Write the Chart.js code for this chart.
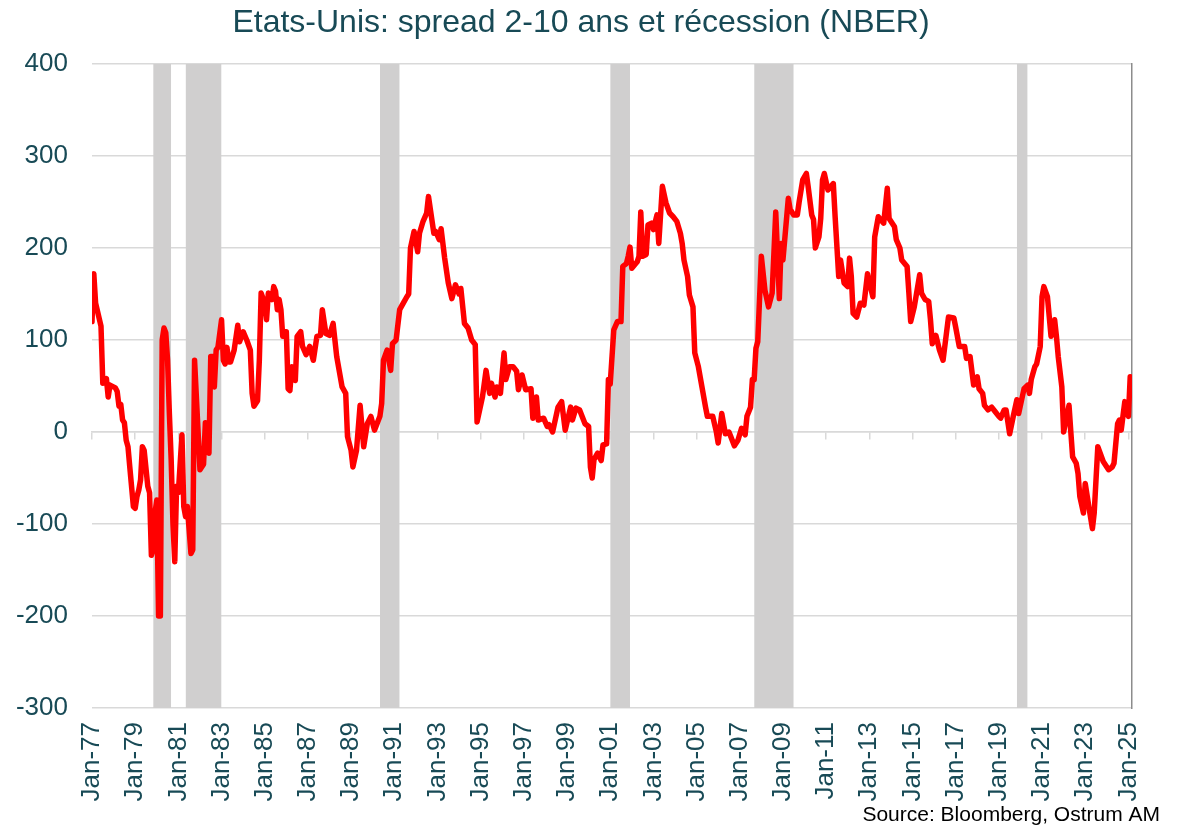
<!DOCTYPE html>
<html>
<head>
<meta charset="utf-8">
<script src="https://cdn.jsdelivr.net/npm/chart.js@4/dist/chart.umd.min.js"></script>
<style>
html,body{margin:0;padding:0;background:#ffffff;}
#wrap{width:1183px;height:827px;position:relative;}
</style>
</head>
<body>
<div id="wrap"><canvas id="c" width="1183" height="827"></canvas></div>
<script>
const chartTitle = "Etats-Unis: spread 2-10 ans et récession (NBER)";
const sourceText = "Source: Bloomberg, Ostrum AM";

const dates = [
"1977-01","1977-02","1977-03","1977-06","1977-07","1977-09","1977-10","1977-11",
"1978-02","1978-03","1978-04","1978-05","1978-06","1978-07","1978-08","1978-09","1978-10","1978-12",
"1979-01","1979-02","1979-03","1979-04","1979-05","1979-06","1979-08","1979-09","1979-10","1979-11","1979-12",
"1980-01","1980-02","1980-03","1980-04","1980-05","1980-06","1980-07","1980-08","1980-09","1980-10","1980-11","1980-12",
"1981-01","1981-03","1981-04","1981-05","1981-06","1981-08","1981-09","1981-10",
"1982-01","1982-03","1982-04","1982-05","1982-06","1982-07","1982-08","1982-09","1982-10","1982-11",
"1983-01","1983-02","1983-03","1983-04","1983-05","1983-06","1983-08","1983-10","1983-11",
"1984-01","1984-03","1984-05","1984-06","1984-07","1984-09","1984-10","1984-11",
"1985-01","1985-02","1985-03","1985-05","1985-06","1985-07","1985-08","1985-09","1985-10","1985-11","1985-12",
"1986-01","1986-02","1986-03","1986-04","1986-06","1986-07","1986-09","1986-10","1986-12",
"1987-02","1987-04","1987-06","1987-08","1987-09","1987-11",
"1988-01","1988-03","1988-05","1988-08","1988-10","1988-11",
"1989-01","1989-02","1989-04","1989-06","1989-08","1989-10","1989-12",
"1990-02","1990-05","1990-06","1990-07","1990-09","1990-11","1990-12",
"1991-02","1991-04","1991-06","1991-08","1991-09","1991-10","1991-12",
"1992-02","1992-03","1992-05","1992-07","1992-08","1992-11","1992-12",
"1993-02","1993-03","1993-05","1993-07","1993-09","1993-11",
"1994-01","1994-02","1994-04","1994-06","1994-08","1994-10","1994-11",
"1995-02","1995-04","1995-06","1995-07","1995-09","1995-10","1995-12",
"1996-02","1996-03","1996-05","1996-07","1996-09","1996-10","1996-12",
"1997-02","1997-05","1997-06","1997-08","1997-09","1997-12",
"1998-02","1998-03","1998-05","1998-08","1998-10","1998-12",
"1999-03","1999-04","1999-06","1999-08","1999-11",
"2000-01","2000-02","2000-03","2000-04","2000-06","2000-08","2000-09","2000-11","2000-12",
"2001-01","2001-03","2001-05","2001-07","2001-08","2001-10","2001-11","2001-12",
"2002-01","2002-04","2002-05","2002-06","2002-07","2002-09","2002-10","2002-12",
"2003-01","2003-03","2003-04","2003-06","2003-08","2003-10","2003-12",
"2004-02","2004-04","2004-05","2004-06","2004-08","2004-09","2004-11","2004-12",
"2005-02","2005-04","2005-06","2005-07","2005-10","2005-12",
"2006-01","2006-03","2006-05","2006-07","2006-08","2006-10","2006-12",
"2007-02","2007-04","2007-05","2007-07","2007-08","2007-09","2007-10","2007-11",
"2008-01","2008-03","2008-05","2008-07","2008-09","2008-11","2008-12",
"2009-01","2009-04","2009-05","2009-07","2009-09","2009-10","2009-12",
"2010-02","2010-03","2010-05","2010-06","2010-07","2010-09","2010-10","2010-11","2010-12",
"2011-02","2011-05","2011-06","2011-08","2011-09","2011-11",
"2012-01","2012-02","2012-03","2012-04","2012-06","2012-08","2012-10","2012-12",
"2013-01","2013-03","2013-04","2013-06","2013-09","2013-11","2013-12",
"2014-03","2014-04","2014-06","2014-07","2014-10","2014-11","2014-12",
"2015-02","2015-05","2015-06","2015-08","2015-10","2015-11","2015-12",
"2016-02","2016-04","2016-06","2016-09","2016-12",
"2017-01","2017-03","2017-06","2017-07","2017-09","2017-11",
"2018-01","2018-02","2018-04","2018-05","2018-07","2018-09","2018-11",
"2019-01","2019-02","2019-04","2019-05","2019-07","2019-09","2019-11","2019-12",
"2020-02","2020-03","2020-05","2020-06","2020-07","2020-09","2020-10","2020-12",
"2021-01","2021-02","2021-04","2021-06","2021-08","2021-09","2021-10","2021-12",
"2022-01","2022-04","2022-05","2022-06","2022-08","2022-09","2022-10","2022-12",
"2023-01","2023-03","2023-05","2023-06","2023-08","2023-11",
"2024-02","2024-04","2024-05","2024-07","2024-08","2024-09","2024-11",
"2025-01","2025-02"
];

const spread = [
120,172,140,115,53,58,38,51,
48,44,28,30,13,10,-9,-16,-38,-81,
-83,-70,-63,-52,-16,-20,-59,-66,-134,-128,-88,
-74,-200,-200,100,113,108,78,20,-30,-100,-141,-59,
-66,-3,-81,-92,-81,-132,-128,78,
-41,-35,10,7,-23,82,82,49,89,92,
122,78,74,92,76,76,89,116,98,
109,100,89,42,28,34,78,151,
140,122,151,144,158,153,133,144,133,104,109,
109,47,45,71,56,104,109,93,84,
93,78,104,105,133,107,
105,118,82,49,42,-5,
-20,-38,-20,29,-16,9,17,
2,17,31,78,89,67,96,
100,133,140,147,150,200,218,
196,216,229,238,256,216,218,
209,221,189,162,145,160,
150,156,118,113,100,95,11,
38,67,42,53,38,49,42,
86,57,71,71,66,46,62,
46,47,15,38,13,15,
6,8,0,27,33,2,
27,13,26,24,9,
6,-38,-50,-30,-23,-31,-14,-13,57,
52,111,120,120,180,183,191,201,
178,185,191,239,191,193,225,227,
220,236,205,267,249,238,234,
229,216,205,187,169,149,136,86,
71,49,27,17,17,0,
-12,20,-2,0,-5,-15,-9,
4,-3,17,27,57,57,91,98,
191,154,136,151,239,145,205,
187,254,242,236,236,250,274,
281,267,236,231,200,212,232,274,281,
263,270,234,169,187,162,
158,189,169,129,125,140,138,172,
163,147,212,234,227,265,232,
223,209,200,187,180,151,120,
136,171,151,144,142,122,96,
105,89,78,125,124,
114,93,93,80,82,51,
60,47,42,29,24,27,22,
17,15,24,24,-2,17,35,20,
38,47,51,42,57,71,74,93,
147,158,147,104,122,104,82,49,
0,29,0,-27,-34,-45,-70,-88,
-56,-81,-105,-88,-16,-32,
-41,-38,-34,9,13,2,33,
17,60
];

const recessionStart = ["1979-11","1981-05","1990-05","2001-01","2007-09","2019-11"];
const recessionEnd   = ["1980-09","1983-01","1991-04","2001-12","2009-07","2020-05"];

const xTickLabels = ["Jan-77","Jan-79","Jan-81","Jan-83","Jan-85","Jan-87","Jan-89","Jan-91","Jan-93","Jan-95","Jan-97","Jan-99","Jan-01","Jan-03","Jan-05","Jan-07","Jan-09","Jan-11","Jan-13","Jan-15","Jan-17","Jan-19","Jan-21","Jan-23","Jan-25"];
const yMin = -300, yMax = 400, yStep = 100;

const TEAL = '#184a56';
const GRID = '#d9d9d9';
const FONT = "'Liberation Sans', Arial, sans-serif";

function monthIndex(d){
  const p = d.split('-');
  return (parseInt(p[0],10) - 1977) * 12 + (parseInt(p[1],10) - 1);
}
const xMax = monthIndex(dates[dates.length-1]) + 1;
const tickStep = 24;

const lineData = dates.map((d,i) => ({x: monthIndex(d), y: spread[i]}));

const recessionSets = recessionStart.map((s,i) => ({
  type: 'line',
  label: 'rec' + i,
  data: [{x: monthIndex(s), y: yMax}, {x: monthIndex(recessionEnd[i]), y: yMax}],
  fill: 'start',
  backgroundColor: '#d0cfcf',
  borderWidth: 0,
  pointRadius: 0,
  order: 5
}));

function keepSteps(scale){
  scale.ticks = scale.ticks.filter(t => Math.abs(t.value % tickStep) < 1e-6);
}

Chart.defaults.font.family = FONT;

const sourcePlugin = {
  id: 'sourceText',
  afterDraw(chart){
    const ctx = chart.ctx;
    ctx.save();
    ctx.font = "21px " + FONT;
    ctx.fillStyle = '#000000';
    ctx.textAlign = 'right';
    ctx.textBaseline = 'alphabetic';
    ctx.fillText(sourceText, 1160, 821);
    ctx.restore();
  }
};

new Chart(document.getElementById('c'), {
  type: 'line',
  data: {
    datasets: [
      {
        label: 'spread',
        data: lineData,
        borderColor: '#ff0000',
        borderWidth: 5.5,
        pointRadius: 0,
        tension: 0,
        fill: false,
        borderJoinStyle: 'round',
        borderCapStyle: 'round',
        order: 0
      },
      ...recessionSets
    ]
  },
  options: {
    responsive: false,
    animation: false,
    layout: { padding: { left: 0, right: 21, top: 0, bottom: 0 } },
    plugins: {
      legend: { display: false },
      tooltip: { enabled: false },
      title: {
        display: true,
        text: chartTitle,
        color: TEAL,
        font: { size: 32, weight: 'normal', family: FONT },
        padding: { top: 4, bottom: 21.6 }
      }
    },
    scales: {
      x: {
        type: 'linear',
        position: 'bottom',
        min: 0,
        max: xMax,
        afterBuildTicks: keepSteps,
        afterFit: s => { s.height = 119; },
        grid: { display: false, drawTicks: false },
        border: { display: false },
        ticks: {
          stepSize: tickStep,
          includeBounds: false,
          autoSkip: false,
          maxRotation: 90,
          minRotation: 90,
          padding: 14,
          color: TEAL,
          font: { size: 26 },
          callback: v => xTickLabels[Math.round(v / tickStep)] || ''
        }
      },
      x0: {
        type: 'linear',
        position: { y: 0 },
        min: 0,
        max: xMax,
        afterBuildTicks: keepSteps,
        grid: { drawOnChartArea: false, drawTicks: true, tickLength: 7, color: GRID, lineWidth: 1.5 },
        border: { display: true, color: GRID, width: 1.5 },
        ticks: { display: false, stepSize: tickStep, includeBounds: false }
      },
      y: {
        min: yMin,
        max: yMax,
        afterFit: s => { s.width = 92; },
        grid: { color: GRID, lineWidth: 1.5, drawTicks: false },
        border: { display: false },
        ticks: { stepSize: yStep, padding: 24, color: TEAL, font: { size: 26 } }
      },
      y2: {
        position: 'right',
        min: yMin,
        max: yMax,
        afterFit: s => { s.width = 30; },
        grid: { display: false, drawTicks: false },
        border: { display: true, color: '#8c8c8c', width: 1.5 },
        ticks: { display: false }
      }
    }
  },
  plugins: [sourcePlugin]
});
</script>
</body>
</html>
